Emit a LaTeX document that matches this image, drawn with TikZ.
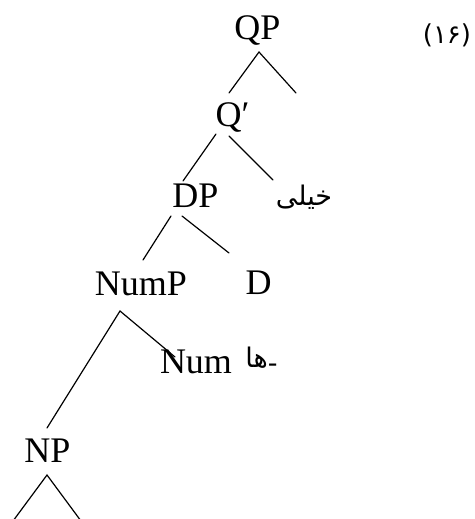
\documentclass[tikz,border=0pt]{standalone}
\usepackage{fontspec}
\setmainfont{Liberation Serif}
\newfontfamily\arabicfont[Script=Arabic]{DejaVu Sans}
\TeXXeTstate=1
\begin{document}
\begin{tikzpicture}[x=1pt,y=-1pt,
  lab/.style={anchor=base,inner sep=0pt,font=\fontsize{36}{40}\selectfont},
  fa/.style={anchor=base,inner sep=0pt,font=\arabicfont\fontsize{27}{30}\selectfont},
  edge/.style={line width=1.2pt,line cap=round}]
\useasboundingbox (0,0) rectangle (474,519);
\node[lab] (QP) at (257.5,40) {QP};
\node[fa,font=\arabicfont\fontsize{26}{30}\selectfont] (ex) at (447,44) {\beginR(۱۶)\endR};
\node[lab] (Qb) at (232.5,126) {Q′};
\node[lab] (DP) at (195.5,207) {DP};
\node[fa] (khe) at (304,205) {\beginR خیلی\endR};
\node[lab] (NumP) at (141,295) {NumP};
\node[lab] (D) at (258.5,294) {D};
\node[lab] (Num) at (196,373) {Num};
\node[fa] (ha) at (261.5,367) {\beginR\raisebox{-5pt}{-}ها\endR};
\node[lab] (NP) at (47.5,462) {NP};
% line end points
\coordinate (q0) at (259,52);
\coordinate (q1) at (229,93);
\coordinate (q2) at (296,93);
\coordinate (b0l) at (216,134);
\coordinate (b1) at (183,181);
\coordinate (b0r) at (229,136);
\coordinate (b2) at (273,180);
\coordinate (d0l) at (171,216);
\coordinate (d1) at (143,260);
\coordinate (d0r) at (182,216);
\coordinate (d2) at (229,253);
\coordinate (n0) at (120,311);
\coordinate (n1) at (47,428);
\coordinate (n2) at (175,357);
\coordinate (p0) at (47,475);
\coordinate (p1) at (13,521);
\coordinate (p2) at (81,521);
\draw[edge] (q1) -- (q0) -- (q2);
\draw[edge] (b0l) -- (b1);
\draw[edge] (b0r) -- (b2);
\draw[edge] (d0l) -- (d1);
\draw[edge] (d0r) -- (d2);
\draw[edge] (n1) -- (n0) -- (n2);
\draw[edge] (p1) -- (p0) -- (p2);
\end{tikzpicture}
\end{document}
